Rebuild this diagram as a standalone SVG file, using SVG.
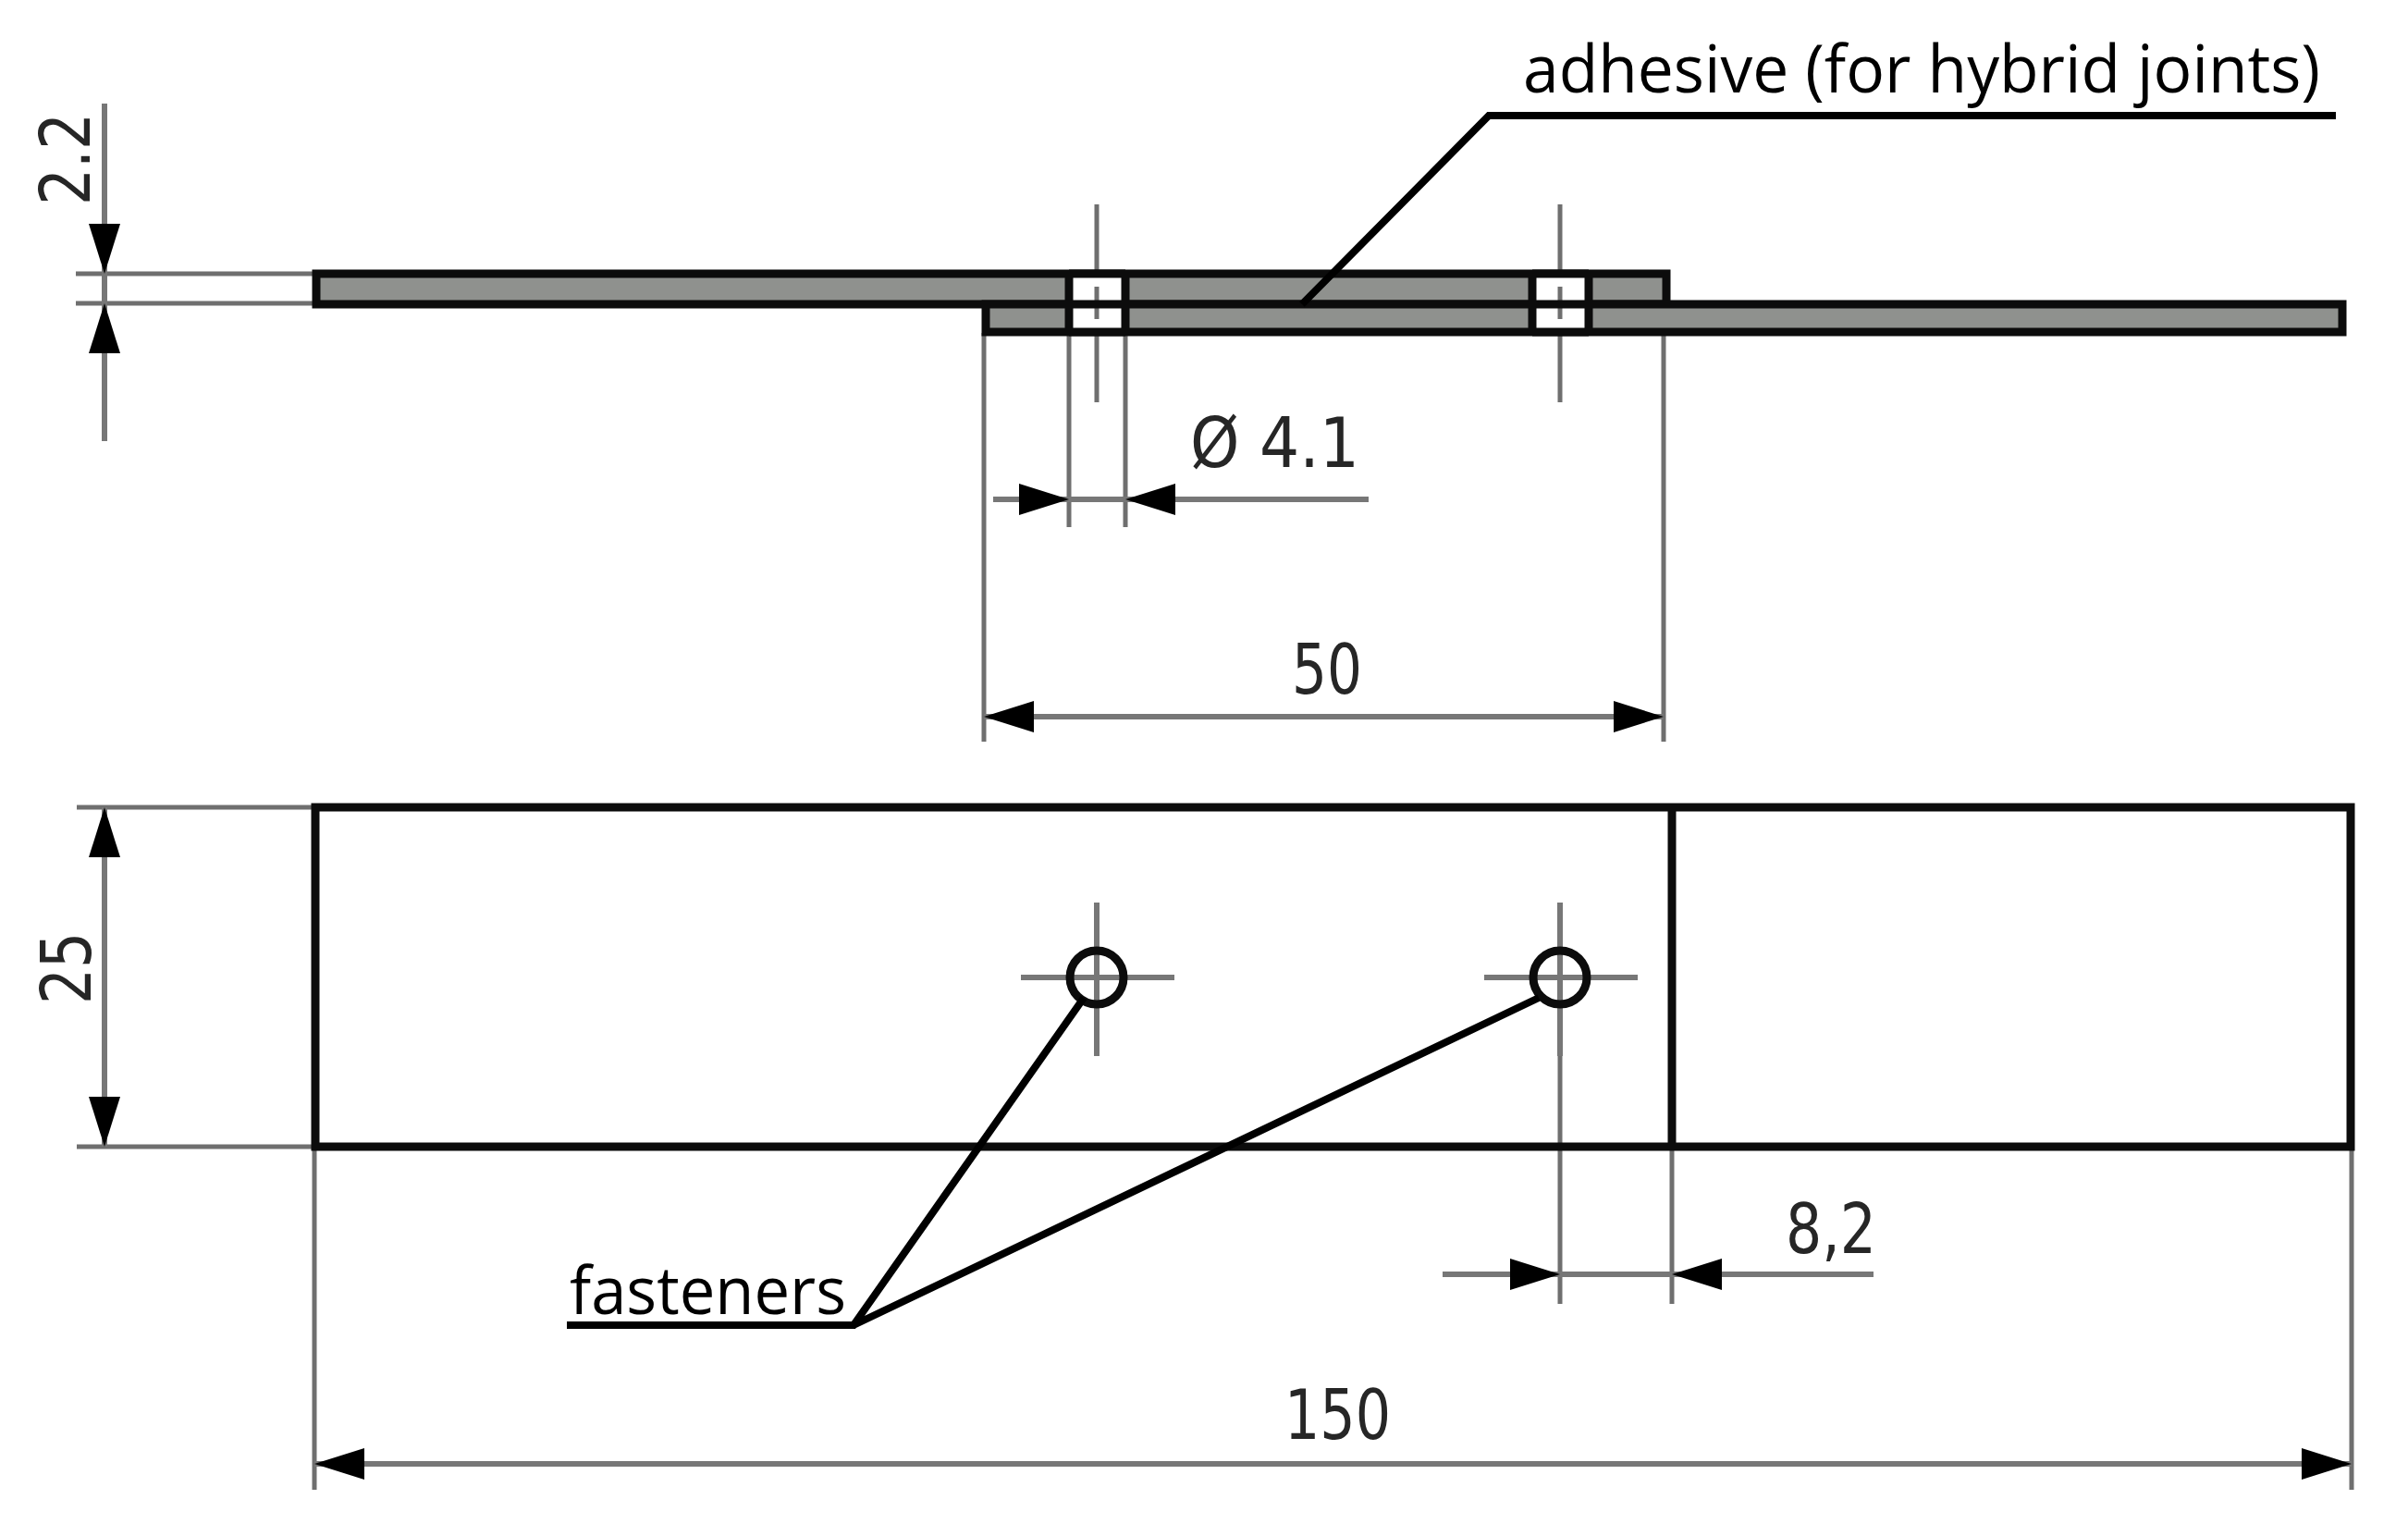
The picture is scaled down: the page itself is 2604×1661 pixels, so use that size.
<svg xmlns="http://www.w3.org/2000/svg" width="2604" height="1661" viewBox="0 0 2604 1661">
<style>
.dim{stroke:#6f6f6f;stroke-width:5;fill:none}
.thin{stroke:#777;stroke-width:6;fill:none}
.lead{stroke:#000;stroke-width:8;fill:none}
.outline{stroke:#0c0c0c;stroke-width:9;fill:none}
.plate{fill:#8f918e;stroke:#0c0c0c;stroke-width:9}
.hole{fill:#fff}
.bar{stroke:#0c0c0c;stroke-width:9}
.dimtext{font-family:"DejaVu Sans",sans-serif;font-size:74px;fill:#262626}
.label{font-family:"Open Sans",sans-serif;font-size:72px;fill:#000}
</style>
<defs>
<marker id="tip" markerUnits="userSpaceOnUse" markerWidth="54" markerHeight="34" refX="54" refY="17" orient="auto-start-reverse"><path d="M0 0L54 17L0 34Z" fill="#000"/></marker>
</defs>
<rect width="2604" height="1661" fill="#fff"/>
<g id="dimension-lines">
<path class="dim" d="M82 296H340M82 328H340"/>
<path class="dim" d="M1064 360V802M1799 330V802"/>
<path class="dim" d="M1156 360V570M1217 360V570"/>
<path class="dim" d="M83 873H340M83 1240H340"/>
<path class="dim" d="M340 1240V1611M2543 1240V1611"/>
<path class="dim" d="M1687 1085V1410M1808 1240V1410"/>
<path class="dim" d="M1186 221V296M1186 360V435M1687 221V296M1687 360V435"/>
</g>
<g id="side-view">
<rect class="plate" x="342" y="296" width="1460" height="33"/>
<rect class="plate" x="1066" y="329" width="1467" height="30"/>
<g id="hole-side-1">
<rect class="hole" x="1156" y="296" width="61" height="63"/>
<path class="dim" d="M1186 310V345"/>
<path class="bar" d="M1156 296V359M1217 296V359M1156 296H1217M1156 329H1217M1156 359H1217"/>
</g>
<g id="hole-side-2">
<rect class="hole" x="1657" y="296" width="61" height="63"/>
<path class="dim" d="M1687 310V345"/>
<path class="bar" d="M1657 296V359M1718 296V359M1657 296H1718M1657 329H1718M1657 359H1718"/>
</g>
</g>
<g id="plan-view">
<rect class="outline" x="341" y="873" width="2201" height="367"/>
<path class="outline" d="M1808 873V1240"/>
<g id="hole-plan-1">
<path class="thin" d="M1104 1057H1270M1186 976V1142"/>
<circle class="outline" cx="1186" cy="1057" r="29"/>
</g>
<g id="hole-plan-2">
<path class="thin" d="M1605 1057H1771M1687 976V1142"/>
<circle class="outline" cx="1687" cy="1057" r="29"/>
</g>
</g>
<g id="connectors">
<line class="thin" x1="113" y1="112" x2="113" y2="296" marker-end="url(#tip)"/>
<line class="thin" x1="113" y1="477" x2="113" y2="328" marker-end="url(#tip)"/>
<line class="thin" x1="113" y1="296" x2="113" y2="328"/>
<line class="thin" x1="1074" y1="540" x2="1156" y2="540" marker-end="url(#tip)"/>
<line class="thin" x1="1480" y1="540" x2="1217" y2="540" marker-end="url(#tip)"/>
<line class="thin" x1="1156" y1="540" x2="1217" y2="540"/>
<line class="thin" x1="1064" y1="775" x2="1799" y2="775" marker-start="url(#tip)" marker-end="url(#tip)"/>
<line class="thin" x1="113" y1="873" x2="113" y2="1240" marker-start="url(#tip)" marker-end="url(#tip)"/>
<line class="thin" x1="1560" y1="1378" x2="1687" y2="1378" marker-end="url(#tip)"/>
<line class="thin" x1="2026" y1="1378" x2="1808" y2="1378" marker-end="url(#tip)"/>
<line class="thin" x1="1687" y1="1378" x2="1808" y2="1378"/>
<line class="thin" x1="340" y1="1583" x2="2543" y2="1583" marker-start="url(#tip)" marker-end="url(#tip)"/>
<path class="lead" d="M1408 329L1610 125H2526"/>
<path class="lead" d="M613 1433H923L1172 1079M923 1433L1664 1079"/>
</g>
<g id="labels">
<text class="label" x="1647" y="100" textLength="862" lengthAdjust="spacingAndGlyphs">adhesive (for hybrid joints)</text>
<text class="label" x="616" y="1421" textLength="299" lengthAdjust="spacingAndGlyphs">fasteners</text>
<text class="dimtext" transform="translate(97 222) rotate(-90)" textLength="100" lengthAdjust="spacingAndGlyphs">2.2</text>
<text class="dimtext" transform="translate(98 1086) rotate(-90)" textLength="78" lengthAdjust="spacingAndGlyphs">25</text>
<text class="dimtext" x="1287" y="505" textLength="183" lengthAdjust="spacingAndGlyphs">Ø 4.1</text>
<text class="dimtext" x="1397" y="750" textLength="76" lengthAdjust="spacingAndGlyphs">50</text>
<text class="dimtext" x="1931" y="1355" textLength="98" lengthAdjust="spacingAndGlyphs">8,2</text>
<text class="dimtext" x="1389" y="1556" textLength="115" lengthAdjust="spacingAndGlyphs">150</text>
</g>
</svg>
